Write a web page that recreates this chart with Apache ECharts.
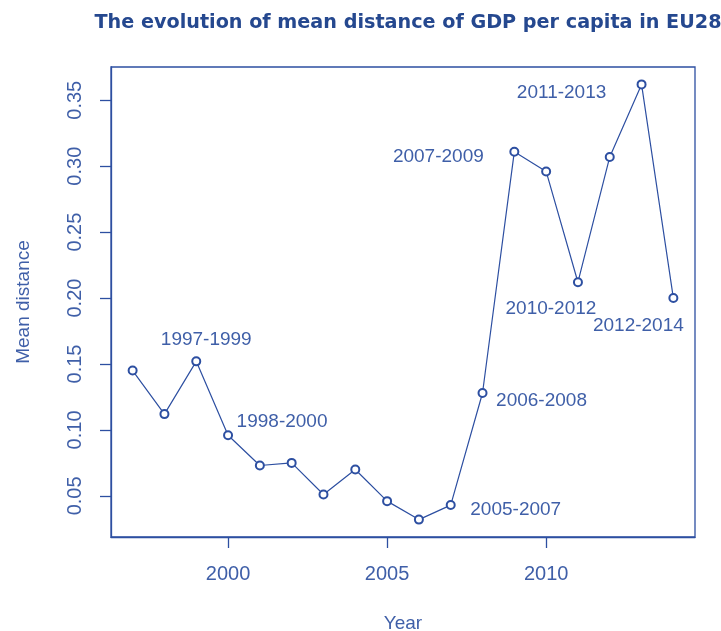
<!DOCTYPE html>
<html>
<head>
<meta charset="utf-8">
<script src="https://cdn.jsdelivr.net/npm/echarts@6/dist/echarts.min.js"></script>
<style>
  html, body { margin: 0; padding: 0; background: #fff; }
  #chart { width: 721px; height: 631px; }
</style>
</head>
<body>
<div id="chart"></div>
<script>
// Years and mean distance of GDP per capita across EU28
var years = [1997, 1998, 1999, 2000, 2001, 2002, 2003, 2004, 2005,
             2006, 2007, 2008, 2009, 2010, 2011, 2012, 2013, 2014];
var meanDistance = [0.145, 0.112, 0.152, 0.096, 0.073, 0.075, 0.051, 0.070, 0.046,
                    0.032, 0.043, 0.128, 0.311, 0.296, 0.212, 0.307, 0.362, 0.200];

// Period annotations, keyed by the year they sit next to
var periodYears = [1999, 2000, 2007, 2008, 2009, 2011, 2013, 2014];
var periodLabels = ['1997-1999', '1998-2000', '2005-2007', '2006-2008',
                    '2007-2009', '2010-2012', '2011-2013', '2012-2014'];

var xTicks = [2000, 2005, 2010];
var yTicks = [0.05, 0.10, 0.15, 0.20, 0.25, 0.30, 0.35];

// Label offsets (px) from each annotated point
var labelOffsets = {
  1999: [10, -22], 2000: [54, -13], 2007: [65, 5], 2008: [59, 8],
  2009: [-76, 5], 2011: [-27, 27], 2013: [-80, 8], 2014: [-35, 28]
};

var lineColor = '#2d4fa1';
var textColor = '#3f5fa8';
var fontFam = '"Liberation Sans", Arial, sans-serif';

// Axis ranges padded by 4% on each side
function padRange(arr) {
  var lo = Math.min.apply(null, arr), hi = Math.max.apply(null, arr);
  var d = (hi - lo) * 0.04;
  return [lo - d, hi + d];
}
var xr = padRange(years), yr = padRange(meanDistance);

var seriesData = years.map(function (y, i) {
  var item = { value: [y, meanDistance[i]] };
  var k = periodYears.indexOf(y);
  if (k >= 0) {
    item.label = {
      show: true,
      formatter: periodLabels[k],
      position: 'inside',
      offset: labelOffsets[y],
      align: 'center',
      verticalAlign: 'middle',
      color: textColor,
      fontSize: 19,
      fontFamily: fontFam
    };
  }
  return item;
});

var chart = echarts.init(document.getElementById('chart'), null, { renderer: 'canvas' });
chart.setOption({
  animation: false,
  backgroundColor: '#fff',
  title: {
    text: 'The evolution of mean distance of GDP per capita in EU28',
    left: 403,
    top: 9,
    textAlign: 'center',
    textStyle: { color: '#25488f', fontSize: 19.2, fontWeight: 'bold', fontFamily: '"DejaVu Sans", Verdana, sans-serif' }
  },
  grid: {
    left: 111, right: 26, top: 67, bottom: 94,
    outerBoundsMode: 'none',
    containLabel: false,
    show: true, borderColor: lineColor, borderWidth: 1.3, backgroundColor: 'transparent'
  },
  xAxis: {
    type: 'value',
    min: xr[0], max: xr[1],
    name: 'Year',
    nameLocation: 'middle',
    nameGap: 77,
    nameTextStyle: { color: textColor, fontSize: 19, fontFamily: fontFam },
    axisLine: { show: true, lineStyle: { color: lineColor, width: 1.3 } },
    axisTick: { show: true, inside: false, length: 11, customValues: xTicks,
                lineStyle: { color: lineColor, width: 1.3 } },
    axisLabel: { customValues: xTicks, margin: 27, color: textColor, fontSize: 20,
                 fontFamily: fontFam, formatter: function (v) { return String(v); } },
    splitLine: { show: false }
  },
  yAxis: {
    type: 'value',
    min: yr[0], max: yr[1],
    name: 'Mean distance',
    nameLocation: 'middle',
    nameGap: 78,
    nameRotate: 90,
    nameTextStyle: { color: textColor, fontSize: 19, fontFamily: fontFam },
    axisLine: { show: true, lineStyle: { color: lineColor, width: 1.3 } },
    axisTick: { show: true, inside: false, length: 11, customValues: yTicks,
                lineStyle: { color: lineColor, width: 1.3 } },
    axisLabel: { customValues: yTicks, margin: 26, rotate: 90, color: textColor, fontSize: 20,
                 fontFamily: fontFam, formatter: function (v) { return v.toFixed(2); } },
    splitLine: { show: false }
  },
  series: [{
    type: 'line',
    data: seriesData,
    symbol: 'emptyCircle',
    symbolSize: 8,
    lineStyle: { color: lineColor, width: 1.2 },
    itemStyle: { color: lineColor, borderColor: lineColor, borderWidth: 1.2 },
    emphasis: { disabled: true }
  }]
});
</script>
</body>
</html>
